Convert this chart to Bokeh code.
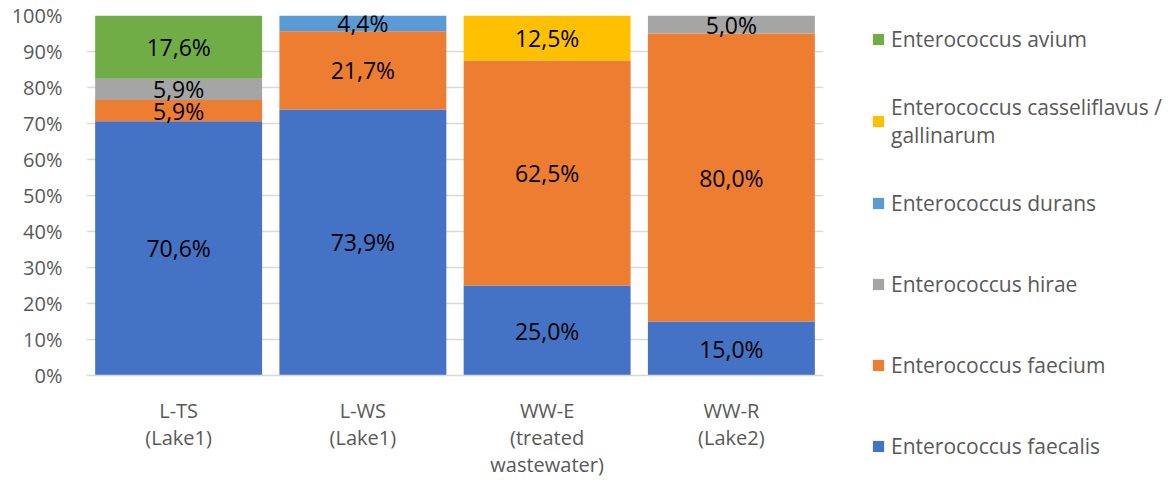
from bokeh.plotting import figure
from bokeh.models import Range1d, Legend, LegendItem, ColumnDataSource, FixedTicker
from bokeh.core.properties import value
from bokeh.embed import file_html
from bokeh.resources import INLINE

categories = ["L-TS\n(Lake1)", "L-WS\n(Lake1)", "WW-E\n(treated\nwastewater)", "WW-R\n(Lake2)"]
faecalis = [70.6, 73.9, 25.0, 15.0]
faecium = [5.9, 21.7, 62.5, 80.0]
hirae = [5.9, 0.0, 0.0, 5.0]
durans = [0.0, 4.4, 0.0, 0.0]
casseliflavus = [0.0, 0.0, 12.5, 0.0]
avium = [17.6, 0.0, 0.0, 0.0]

series_keys = ["faecalis", "faecium", "hirae", "durans", "casseliflavus", "avium"]
series_names = ["Enterococcus faecalis", "Enterococcus faecium", "Enterococcus hirae",
                "Enterococcus durans", "Enterococcus casseliflavus /\ngallinarum",
                "Enterococcus avium"]
colors = ["#4472C4", "#ED7D31", "#A5A5A5", "#5B9BD5", "#FFC000", "#70AD47"]
yticks = [0, 10, 20, 30, 40, 50, 60, 70, 80, 90, 100]

data = dict(cat=categories, faecalis=faecalis, faecium=faecium, hirae=hirae,
            durans=durans, casseliflavus=casseliflavus, avium=avium)
src = ColumnDataSource(data)

FONT = "Open Sans"
GRAY = "#595959"

p = figure(x_range=categories, y_range=Range1d(0, 100), width=1173, height=480,
           frame_width=737, frame_height=360,
           output_backend="svg", toolbar_location=None,
           min_border_left=86, min_border_top=15, min_border_bottom=105, min_border_right=350)
p.outline_line_color = None

renderers = p.vbar_stack(series_keys, x="cat", width=0.906, color=colors, source=src,
                         line_color=None)

# data labels
lx, ly, lt = [], [], []
series_vals = [faecalis, faecium, hirae, durans, casseliflavus, avium]
for i, c in enumerate(categories):
    base = 0.0
    for vals in series_vals:
        v = vals[i]
        if v > 0:
            lx.append(c)
            ly.append(base + v / 2)
            lt.append(("%.1f%%" % v).replace(".", ","))
        base += v
p.text(x=lx, y=ly, text=lt, text_align="center", text_baseline="middle",
       text_font=value(FONT), text_font_size="23px", text_color="#000000")

# axes
p.yaxis.ticker = FixedTicker(ticks=yticks)
p.yaxis.major_label_overrides = {t: "%d%%" % t for t in yticks}
p.yaxis.axis_line_color = None
p.yaxis.major_tick_line_color = None
p.yaxis.minor_tick_line_color = None
p.yaxis.major_tick_out = 0
p.yaxis.major_tick_in = 0
p.yaxis.major_label_text_font = FONT
p.yaxis.major_label_text_font_size = "20px"
p.yaxis.major_label_text_color = GRAY
p.yaxis.major_label_standoff = 24

p.xaxis.axis_line_color = "#D9D9D9"
p.xaxis.axis_line_width = 1.5
p.xaxis.major_tick_line_color = None
p.xaxis.minor_tick_line_color = None
p.xaxis.major_tick_out = 0
p.xaxis.major_tick_in = 0
p.xaxis.major_label_text_font = FONT
p.xaxis.major_label_text_font_size = "20px"
p.xaxis.major_label_text_color = GRAY
p.xaxis.major_label_standoff = 21
p.xaxis.major_label_text_line_height = 1.0

p.xgrid.grid_line_color = None
p.ygrid.grid_line_color = "#D9D9D9"
p.ygrid.grid_line_width = 1.5

items = [LegendItem(label=series_names[k], renderers=[renderers[k]]) for k in range(5, -1, -1)]
legend = Legend(items=items, location=(48, -98), orientation="vertical",
                label_text_font=FONT, label_text_font_size="21px",
                label_text_color=GRAY, label_text_line_height=0.95,
                glyph_width=14, glyph_height=14, label_height=54, spacing=27,
                label_standoff=6, padding=0, margin=0,
                border_line_color=None, background_fill_alpha=0)
p.add_layout(legend, "right")

open("out.html", "w").write(file_html(p, INLINE))
